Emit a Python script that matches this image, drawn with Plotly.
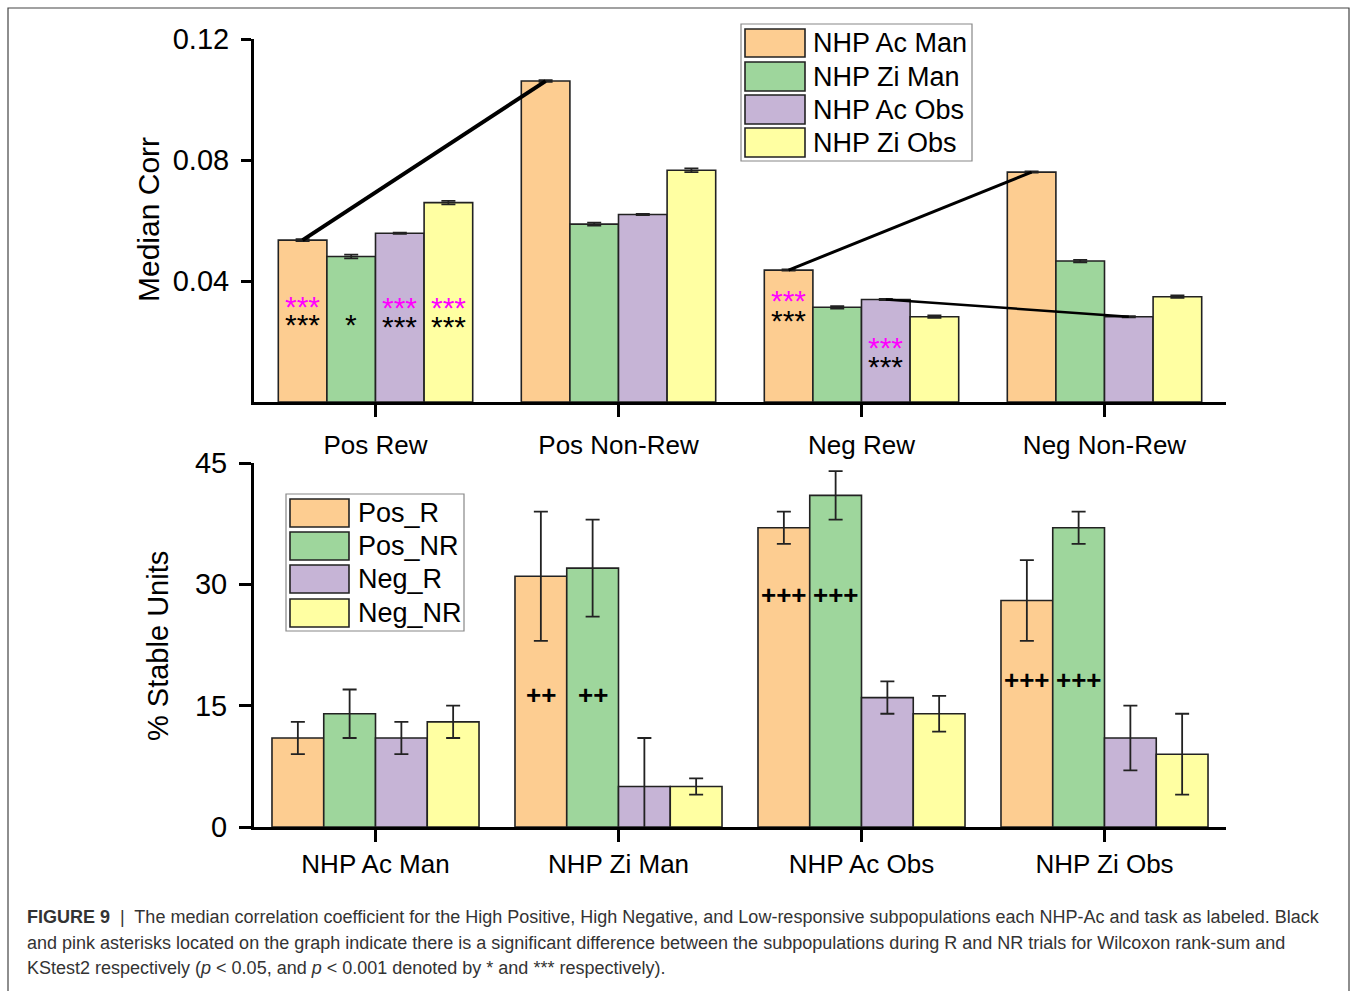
import plotly.graph_objects as go

W, H = 1354, 991

# ---------------- data ----------------
top_categories = ["Pos Rew", "Pos Non-Rew", "Neg Rew", "Neg Non-Rew"]
top_series = ["NHP Ac Man", "NHP Zi Man", "NHP Ac Obs", "NHP Zi Obs"]
ac_man = [0.0535, 0.1061, 0.0436, 0.0760]
zi_man = [0.0481, 0.0588, 0.0313, 0.0466]
ac_obs = [0.0558, 0.0620, 0.0339, 0.0282]
zi_obs = [0.0659, 0.0766, 0.0282, 0.0348]
ac_man_err = [0.0003, 0.0003, 0.0002, 0.0002]
zi_man_err = [0.0006, 0.0005, 0.0004, 0.0004]
ac_obs_err = [0.0002, 0.0002, 0.0002, 0.0002]
zi_obs_err = [0.0006, 0.0006, 0.0004, 0.0004]

bottom_categories = ["NHP Ac Man", "NHP Zi Man", "NHP Ac Obs", "NHP Zi Obs"]
bottom_series = ["Pos_R", "Pos_NR", "Neg_R", "Neg_NR"]
pos_r = [11, 31, 37, 28]
pos_nr = [14, 32, 41, 37]
neg_r = [11, 5, 16, 11]
neg_nr = [13, 5, 14, 9]
pos_r_err = [2, 8, 2, 5]
pos_nr_err = [3, 6, 3, 2]
neg_r_err = [2, 6, 2, 4]
neg_nr_err = [2, 1, 2.2, 5]

# significance marks (top): (category index, series index, label, color, y)
top_marks = [
    (0, 0, "***", "#FF00FF", 0.0317), (0, 0, "***", "black", 0.0255),
    (0, 1, "*", "black", 0.0255),
    (0, 2, "***", "#FF00FF", 0.0314), (0, 2, "***", "black", 0.0248),
    (0, 3, "***", "#FF00FF", 0.0314), (0, 3, "***", "black", 0.0248),
    (2, 0, "***", "#FF00FF", 0.0334), (2, 0, "***", "black", 0.0268),
    (2, 2, "***", "#FF00FF", 0.0179), (2, 2, "***", "black", 0.0116),
]
# connecting lines (top): (series index, from category, to category)
top_links = [(0, 0, 1), (0, 2, 3), (2, 2, 3)]
top_link_widths = [4, 3, 2.5]
# significance marks (bottom): (category index, series index, label, y)
bottom_marks = [
    (1, 0, "++", 16.3), (1, 1, "++", 16.3),
    (2, 0, "+++", 28.7), (2, 1, "+++", 28.7),
    (3, 0, "+++", 18.2), (3, 1, "+++", 18.2),
]

colors = ["#FDCD91", "#9ED69C", "#C6B4D6", "#FFFFA2"]
FONT = "Liberation Sans, Arial, sans-serif"

def px(x):
    return x / W

def py(y):
    return 1 - y / H

fig = go.Figure()

top_vals = [ac_man, zi_man, ac_obs, zi_obs]
top_errs = [ac_man_err, zi_man_err, ac_obs_err, zi_obs_err]
bot_vals = [pos_r, pos_nr, neg_r, neg_nr]
bot_errs = [pos_r_err, pos_nr_err, neg_r_err, neg_nr_err]

TW = 0.2      # top bar width
BW = 0.213    # bottom bar width
xs = list(range(4))

def top_center(i, j):
    return i - 2 * TW + (j + 0.5) * TW

def bot_center(i, j):
    return i - 2 * BW + (j + 0.5) * BW

for j in range(4):
    fig.add_trace(go.Bar(
        x=xs, y=top_vals[j], name=top_series[j],
        width=TW, offset=-2 * TW + j * TW,
        marker=dict(color=colors[j], line=dict(color="#222222", width=1.6)),
        error_y=dict(type="data", array=top_errs[j], color="#222222",
                     thickness=1.8, width=7),
        xaxis="x", yaxis="y", showlegend=False,
    ))

for j in range(4):
    fig.add_trace(go.Bar(
        x=xs, y=bot_vals[j], name=bottom_series[j],
        width=BW, offset=-2 * BW + j * BW,
        marker=dict(color=colors[j], line=dict(color="#222222", width=1.6)),
        error_y=dict(type="data", array=bot_errs[j], color="#222222",
                     thickness=1.8, width=7),
        xaxis="x2", yaxis="y2", showlegend=False,
    ))

for (s, a, b), lw in zip(top_links, top_link_widths):
    fig.add_trace(go.Scatter(
        x=[top_center(a, s), top_center(b, s)],
        y=[top_vals[s][a], top_vals[s][b]],
        mode="lines", line=dict(color="black", width=lw),
        xaxis="x", yaxis="y", showlegend=False, hoverinfo="skip",
    ))

annotations = []
for (i, j, lab, col, yv) in top_marks:
    annotations.append(dict(
        x=top_center(i, j), y=yv, xref="x", yref="y", text=lab,
        showarrow=False, font=dict(family=FONT, size=30, color=col),
        xanchor="center", yanchor="middle"))
for (i, j, lab, yv) in bottom_marks:
    annotations.append(dict(
        x=bot_center(i, j), y=yv, xref="x2", yref="y2", text="<b>" + lab + "</b>",
        showarrow=False, font=dict(family=FONT, size=26, color="black"),
        xanchor="center", yanchor="middle"))

# axis titles
annotations.append(dict(x=px(148), y=py(220), xref="paper", yref="paper",
                        text="Median Corr", textangle=-90, showarrow=False,
                        font=dict(family=FONT, size=30, color="black"),
                        xanchor="center", yanchor="middle"))
annotations.append(dict(x=px(158), y=py(646), xref="paper", yref="paper",
                        text="% Stable Units", textangle=-90, showarrow=False,
                        font=dict(family=FONT, size=29, color="black"),
                        xanchor="center", yanchor="middle"))

shapes = []

def legend_box(x0, y0, x1, y1, sw_x0, sw_x1, rows, text_x, labels):
    shapes.append(dict(type="rect", xref="paper", yref="paper",
                       x0=px(x0), x1=px(x1), y0=py(y1), y1=py(y0),
                       line=dict(color="#888888", width=1.2),
                       fillcolor="white", layer="above"))
    for k, (r0, r1) in enumerate(rows):
        shapes.append(dict(type="rect", xref="paper", yref="paper",
                           x0=px(sw_x0), x1=px(sw_x1), y0=py(r1), y1=py(r0),
                           line=dict(color="#222222", width=1.6),
                           fillcolor=colors[k], layer="above"))
        annotations.append(dict(x=px(text_x), y=py((r0 + r1) / 2),
                                xref="paper", yref="paper", text=labels[k],
                                showarrow=False, xanchor="left",
                                yanchor="middle",
                                font=dict(family=FONT, size=27,
                                          color="black")))

legend_box(741, 24, 972, 161, 745, 805,
           [(29, 57), (62, 91), (95, 124), (128, 157)], 811, top_series)
legend_box(286, 494, 464, 631, 290, 349,
           [(499, 527), (532, 560), (565, 593), (599, 627)], 356,
           bottom_series)

# frame around the figure
shapes.append(dict(type="rect", xref="paper", yref="paper",
                   x0=px(8), x1=px(1349), y0=py(1000), y1=py(8),
                   line=dict(color="#444444", width=1.2), layer="above"))

# caption
cap_lines = [
    "<b>FIGURE 9</b>  |  The median correlation coefficient for the High Positive, High Negative, and Low-responsive subpopulations each NHP-Ac and task as labeled. Black",
    "and pink asterisks located on the graph indicate there is a significant difference between the subpopulations during R and NR trials for Wilcoxon rank-sum and",
    "KStest2 respectively (<i>p</i> &lt; 0.05, and <i>p</i> &lt; 0.001 denoted by * and *** respectively).",
]
for k, (line, yc) in enumerate(zip(cap_lines, [917, 943, 968])):
    annotations.append(dict(x=px(25), y=py(yc), xref="paper", yref="paper",
                            text=line, showarrow=False, xanchor="left",
                            yanchor="middle",
                            font=dict(family=FONT, size=18, color="#333333")))

xdom = [px(254), px(1226)]
axis_common = dict(showline=True, linecolor="black", linewidth=3,
                   ticks="outside", tickcolor="black", tickwidth=2.5,
                   showgrid=False, zeroline=False,
                   tickfont=dict(family=FONT, size=29, color="black"))

fig.update_layout(
    width=W, height=H,
    margin=dict(l=0, r=0, t=0, b=0, pad=0, autoexpand=False),
    paper_bgcolor="white", plot_bgcolor="white",
    barmode="overlay",
    showlegend=False,
    xaxis=dict(domain=xdom, range=[-0.5, 3.5], anchor="y",
               tickvals=xs, ticktext=top_categories, ticklen=12,
               ticklabelstandoff=6, automargin=False,
               **{k: v for k, v in axis_common.items() if k != "tickfont"},
               tickfont=dict(family=FONT, size=26, color="black")),
    yaxis=dict(domain=[py(402), py(39)], range=[0, 0.12], anchor="x",
               tickvals=[0.04, 0.08, 0.12], ticktext=["0.04", "0.08", "0.12"],
               ticklen=10, ticklabelstandoff=6, automargin=False, **axis_common),
    xaxis2=dict(domain=xdom, range=[-0.5, 3.5], anchor="y2",
                tickvals=xs, ticktext=bottom_categories, ticklen=12,
                ticklabelstandoff=0, automargin=False,
                **{k: v for k, v in axis_common.items() if k != "tickfont"},
                tickfont=dict(family=FONT, size=26, color="black")),
    yaxis2=dict(domain=[py(827), py(463)], range=[0, 45], anchor="x2",
                tickvals=[0, 15, 30, 45], ticklen=12, ticklabelstandoff=6,
                automargin=False, **axis_common),
    annotations=annotations,
    shapes=shapes,
)

fig.write_html("out.html")
